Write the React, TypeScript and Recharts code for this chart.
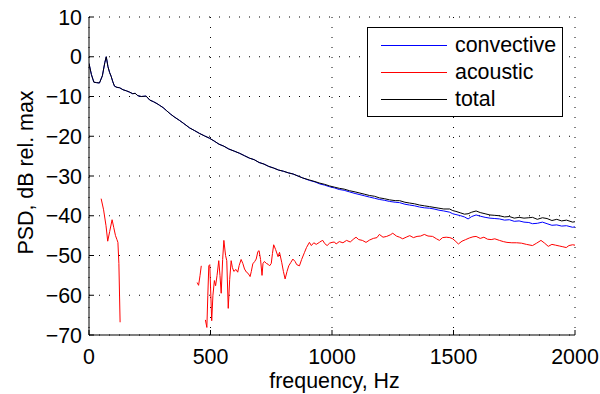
import React from "react";
import { LineChart, Line, XAxis, YAxis, CartesianGrid, Legend, Customized } from "recharts";

const xTicks = [0, 500, 1000, 1500, 2000];
const yTicks = [-70, -60, -50, -40, -30, -20, -10, 0, 10];
const seriesNames = ["convective", "acoustic", "total"];
const seriesColors = ["#0000ff", "#ff0000", "#000000"];

const freqTC = [
  0, 10, 20, 30, 43, 55, 65, 71, 78, 85,
  91, 98, 105, 115, 126, 140, 155, 167, 180, 190,
  201, 215, 235, 250, 265, 280, 290, 305, 318, 335,
  350, 372, 390, 414, 435, 455, 475, 496, 515, 535,
  555, 575, 600, 620, 640, 660, 680, 700, 720, 740,
  760, 780, 800, 820, 840, 860, 880, 907, 930, 950,
  970, 990, 1010, 1030, 1050, 1072, 1095, 1115, 1135, 1154,
  1175, 1195, 1215, 1237, 1260, 1278, 1300, 1319, 1340, 1360,
  1380, 1401, 1420, 1440, 1460, 1484, 1497, 1510, 1530, 1545,
  1560, 1575, 1593, 1610, 1630, 1650, 1670, 1689, 1710, 1730,
  1750, 1770, 1790, 1810, 1825, 1845, 1866, 1885, 1905, 1925,
  1945, 1965, 1990, 2000,
];

const totalDb = [
  -1.7, -4.5, -6.4, -6.5, -6.6, -4.8, -1.5, 0, -2.5, -4.0,
  -4.9, -6.3, -7.4, -7.7, -7.8, -8.3, -8.6, -8.9, -9.3, -9.2,
  -9.8, -10.0, -9.9, -10.9, -11.3, -11.8, -12.2, -12.8, -13.5, -14.4,
  -15.1, -16.0, -16.8, -17.9, -18.6, -19.3, -19.9, -20.5, -21.2, -22.0,
  -22.5, -23.2, -23.8, -24.3, -24.9, -25.5, -25.9, -26.6, -27.0, -27.6,
  -28.0, -28.5, -28.8, -29.2, -29.5, -30.0, -30.5, -31.0, -31.4, -31.8,
  -32.1, -32.5, -32.8, -33.1, -33.3, -33.7, -34.0, -34.3, -34.6, -34.9,
  -35.1, -35.5, -35.7, -36.0, -36.2, -36.2, -36.6, -36.8, -37.0, -37.3,
  -37.5, -37.7, -37.9, -38.1, -38.3, -38.3, -38.7, -38.9, -39.3, -39.6,
  -39.5, -39.1, -38.8, -39.2, -39.5, -39.8, -39.9, -40.0, -40.3, -40.2,
  -40.6, -40.4, -40.6, -40.5, -40.4, -40.9, -40.5, -40.7, -41.2, -40.9,
  -41.3, -41.1, -41.6, -41.5,
];

const convectiveDb = [
  -1.7, -4.5, -6.4, -6.5, -6.6, -4.8, -1.5, 0, -2.5, -4.0,
  -4.9, -6.3, -7.4, -7.7, -7.8, -8.3, -8.6, -8.9, -9.3, -9.2,
  -9.8, -10.0, -9.9, -10.9, -11.3, -11.8, -12.2, -12.8, -13.5, -14.4,
  -15.1, -16.0, -16.8, -17.9, -18.6, -19.3, -19.9, -20.5, -21.2, -22.0,
  -22.5, -23.2, -23.8, -24.3, -24.9, -25.5, -25.9, -26.6, -27.0, -27.6,
  -28.0, -28.5, -28.8, -29.2, -29.5, -30.0, -30.5, -31.1, -31.5, -32.0,
  -32.3, -32.7, -33.0, -33.4, -33.6, -34.0, -34.4, -34.7, -35.0, -35.3,
  -35.6, -35.9, -36.1, -36.4, -36.6, -36.7, -37.1, -37.3, -37.5, -37.8,
  -38.0, -38.1, -38.3, -38.6, -38.8, -39.1, -39.5, -39.7, -40.0, -40.3,
  -40.8, -40.2, -39.8, -40.1, -40.4, -40.6, -40.7, -40.8, -41.1, -41.0,
  -41.4, -41.3, -41.6, -41.7, -42.0, -41.9, -41.6, -42.0, -42.4, -42.3,
  -42.6, -42.5, -42.9, -42.8,
];

const acousticFreq = [
  50, 60, 70, 77, 85, 95, 102, 109, 115, 119,
  123, 128, 130, 445, 451, 457, 462, 470, 479, 485,
  489, 493, 497, 505, 510, 516, 521, 527, 534, 539,
  544, 550, 555, 562, 567, 573, 579, 585, 590, 596,
  605, 612, 618, 626, 633, 640, 648, 655, 663, 668,
  674, 682, 688, 695, 700, 706, 712, 716, 722, 730,
  737, 743, 750, 755, 760, 768, 778, 784, 793, 800,
  807, 815, 822, 830, 839, 848, 855, 866, 875, 887,
  895, 907, 915, 925, 935, 948, 955, 962, 970, 980,
  990, 1000, 1010, 1017, 1030, 1045, 1060, 1075, 1090, 1099,
  1110, 1125, 1140, 1155, 1170, 1185, 1195, 1210, 1225, 1240,
  1250, 1265, 1278, 1291, 1305, 1320, 1335, 1350, 1365, 1380,
  1395, 1414, 1430, 1442, 1455, 1470, 1485, 1497, 1510, 1520,
  1535, 1550, 1565, 1580, 1593, 1610, 1625, 1640, 1655, 1670,
  1689, 1705, 1720, 1740, 1760, 1780, 1800, 1825, 1842, 1860,
  1875, 1890, 1905, 1920, 1935, 1950, 1964, 1975, 1990, 2000,
];

const acousticDb: (number | null)[] = [
  -35.7, -38.5, -42.5, -46.4, -44, -41, -43, -45, -46, -46.7,
  -52, -66.8, null, -56.8, -57.5, -55, -52.6, null, -66.2, -68.1,
  -60, -52.6, -52.3, -66.4, -60, -56.3, -57.6, -55, -51.3, -55,
  -59.5, -51, -46.2, -50, -51.3, -63.3, -56, -51.3, -53, -54,
  -53.5, -54.2, -52.5, -51, -52, -53.4, -54.2, -54.5, -55.3, -54,
  -52.1, -51.5, -50.9, -49, -48.8, -51, -55, -52, -51.5, -52,
  -52.2, -52.6, -52, -49.5, -47.3, -48.5, -50.3, -49.2, -51.7, -54,
  -55.9, -54, -52.6, -51.8, -50.9, -51.5, -52.3, -52.6, -51, -49.2,
  -48, -46.7, -47.5, -46.8, -47.2, -46.7, -46.4, -46.2, -47, -47.5,
  -46.9, -46.7, -46.6, -47.1, -46.5, -46.8, -46.2, -46.6, -45.8, -45.4,
  -46, -46.2, -46.7, -46.1, -45.7, -45.5, -44.7, -45.4, -45.2, -44.8,
  -44.4, -45.1, -45.4, -45.8, -45.4, -45, -45.5, -45.2, -45.1, -44.7,
  -45.1, -45.2, -45.8, -46.2, -45.5, -45.4, -45.5, -45.8, -46.5, -47.1,
  -46.4, -46, -45.6, -45.3, -45.2, -45.7, -45.4, -45.9, -46, -45.8,
  -46.2, -46.5, -46.7, -46.8, -46.8, -46.9, -47.2, -47.5, -46.9, -46.2,
  -46.9, -47.7, -47.2, -47.4, -47.6, -47.8, -48, -47.5, -47.3, -47.4,
];

const tcData = freqTC.map((f, i) => ({ f, total: totalDb[i], convective: convectiveDb[i] }));
const acData = acousticFreq.map((f, i) => ({ f, acoustic: acousticDb[i] }));

const FONT = "'Liberation Sans', Arial, Helvetica, sans-serif";
const FS = 21.4;
const fmt = (v: number) => String(v).replace("-", "\u2212");

const XTick = (props: any) => {
  const { x, y, payload } = props;
  return (
    <g>
      <line x1={x} x2={x} y1={y} y2={y - 5} stroke="#000" strokeWidth={1} />
      <text x={x} y={y + 28.5} textAnchor="middle" fontSize={FS} fontFamily={FONT} fill="#000">
        {fmt(payload.value)}
      </text>
    </g>
  );
};

const YTick = (props: any) => {
  const { x, y, payload } = props;
  return (
    <g>
      <line x1={x} x2={x + 5} y1={y} y2={y} stroke="#000" strokeWidth={1} />
      <text x={x - 7} y={y} dy="0.36em" textAnchor="end" fontSize={FS} fontFamily={FONT} fill="#000">
        {fmt(payload.value)}
      </text>
    </g>
  );
};

const LegendBox = () => (
  <div
    style={{
      width: 196,
      height: 90,
      boxSizing: "border-box",
      border: "1.3px solid #000",
      background: "#fff",
      paddingTop: 4,
      fontFamily: FONT,
      fontSize: FS,
    }}
  >
    {seriesNames.map((n, i) => (
      <div key={n} style={{ display: "flex", alignItems: "center", height: 27 }}>
        <div style={{ marginLeft: 13, width: 66, height: 1, background: seriesColors[i] }} />
        <span style={{ marginLeft: 8, lineHeight: "27px", color: "#000" }}>{n}</span>
      </div>
    ))}
  </div>
);

const AxisLabels = () => (
  <g fontFamily={FONT} fontSize={FS} fill="#000">
    <text x={334.5} y={387.5} textAnchor="middle">frequency, Hz</text>
    <text x={33} y={172.5} textAnchor="middle" transform="rotate(-90 33 172.5)">PSD, dB rel. max</text>
  </g>
);

export default function App() {
  return (
    <div style={{ position: "absolute", left: 0, top: 0, width: 600, height: 394, background: "#fff" }}>
      <LineChart width={600} height={394} margin={{ top: 17, right: 25, bottom: 29, left: 0 }}>
        <CartesianGrid
          stroke="#000"
          strokeDasharray="1 9"
          strokeWidth={1}
          horizontalValues={yTicks}
          verticalValues={xTicks}
        />
        <XAxis
          dataKey="f"
          type="number"
          domain={[0, 2000]}
          ticks={xTicks}
          allowDataOverflow
          height={30}
          tickSize={0}
          tickMargin={0}
          tick={<XTick />}
          axisLine={{ stroke: "#000", strokeWidth: 1 }}
          interval={0}
        />
        <YAxis
          type="number"
          domain={[-70, 10]}
          ticks={yTicks}
          allowDataOverflow
          width={89}
          tickSize={0}
          tickMargin={0}
          tick={<YTick />}
          axisLine={{ stroke: "#000", strokeWidth: 1 }}
          interval={0}
        />
        <Line data={tcData} dataKey="convective" name={seriesNames[0]} stroke={seriesColors[0]} strokeWidth={1} dot={false} isAnimationActive={false} />
        <Line data={acData} dataKey="acoustic" name={seriesNames[1]} stroke={seriesColors[1]} strokeWidth={1} dot={false} isAnimationActive={false} connectNulls={false} />
        <Line data={tcData} dataKey="total" name={seriesNames[2]} stroke={seriesColors[2]} strokeWidth={1} dot={false} isAnimationActive={false} />
        <Legend
          layout="vertical"
          align="center"
          verticalAlign="middle"
          content={<LegendBox />}
          wrapperStyle={{ left: 367, top: 27, width: 196, height: 90 }}
        />
        <Customized component={AxisLabels} />
      </LineChart>
    </div>
  );
}
